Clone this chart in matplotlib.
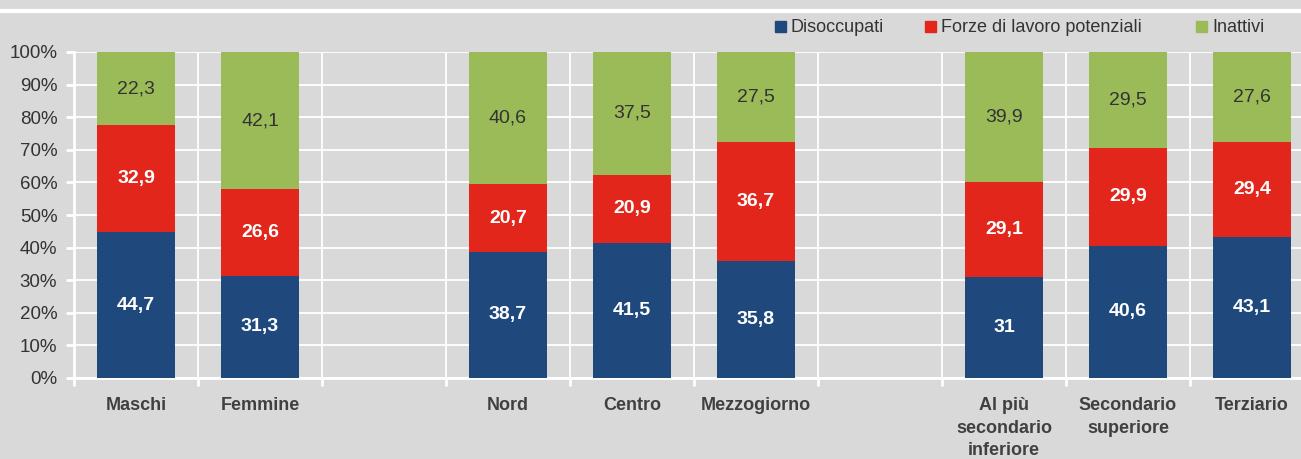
import numpy as np
import matplotlib.pyplot as plt
from matplotlib.patches import Rectangle

categories = ["Maschi", "Femmine", "", "Nord", "Centro", "Mezzogiorno", "",
              "Al più\nsecondario\ninferiore", "Secondario\nsuperiore", "Terziario"]
disoccupati = [44.7, 31.3, 0, 38.7, 41.5, 35.8, 0, 31.0, 40.6, 43.1]
forze_potenziali = [32.9, 26.6, 0, 20.7, 20.9, 36.7, 0, 29.1, 29.9, 29.4]
inattivi = [22.3, 42.1, 0, 40.6, 37.5, 27.5, 0, 39.9, 29.5, 27.6]
series_names = ["Disoccupati", "Forze di lavoro potenziali", "Inattivi"]
colors = ["#1f497d", "#e3261b", "#9bbb59"]

bg = "#d9d9d9"
txt = "#333333"
plt.rcParams["font.family"] = ["Liberation Sans", "DejaVu Sans"]

W, H = 1301, 459
fig = plt.figure(figsize=(W / 100, H / 100), dpi=100, facecolor=bg)
# axes extends past right edge of the figure (cropped like the original)
ax = fig.add_axes([74 / W, 1 - 378 / H, 1240 / W, 326 / H], facecolor=bg)

x = np.arange(len(categories))
width = 0.63
bottom = np.zeros(len(categories))
for vals, col, name in zip([disoccupati, forze_potenziali, inattivi], colors, series_names):
    vals = np.array(vals)
    ax.bar(x, vals, width, bottom=bottom, color=col, zorder=3, label=name)
    for xi, v, b in zip(x, vals, bottom):
        if v == 0:
            continue
        s = (f"{v:.1f}" if v != int(v) else f"{int(v)}").replace(".", ",")
        if col == colors[2]:
            ax.text(xi, b + v / 2, s, ha="center", va="center", fontsize=14,
                    color=txt, zorder=4)
        else:
            ax.text(xi, b + v / 2, s, ha="center", va="center", fontsize=14,
                    color="white", fontweight="bold", zorder=4)
    bottom += vals

ax.set_xlim(-0.5, len(categories) - 0.5)
ax.set_ylim(0, 100)
ax.set_yticks(np.arange(0, 101, 10))
ax.set_yticklabels([f"{v}%" for v in range(0, 101, 10)], fontsize=13.5, color=txt)
ax.set_xticks(np.arange(-0.5, len(categories), 1))
ax.set_xticklabels([])
ax.set_xticks(x, minor=True)
ax.set_xticklabels(categories, minor=True, fontsize=13, fontweight="bold",
                   color="#404040", va="top", linespacing=1.4)
ax.tick_params(axis="x", which="minor", length=0, pad=14)
ax.tick_params(axis="x", which="major", length=6, width=2, color="white")
ax.tick_params(axis="y", length=6, width=2, color="white", pad=6)

ax.grid(True, which="major", color="white", linewidth=1.3, zorder=0)
for sp in ["top", "right"]:
    ax.spines[sp].set_visible(False)
for sp in ["left", "bottom"]:
    ax.spines[sp].set_color("white")
    ax.spines[sp].set_linewidth(2)

# white rule at the top
fig.add_artist(plt.Line2D([0, 1], [1 - 11 / H, 1 - 11 / H], color="white", lw=3,
                          transform=fig.transFigure))

# legend
leg_x = [775, 925, 1196]
for lx, col, name in zip(leg_x, colors, series_names):
    fig.add_artist(Rectangle((lx / W, 1 - 32 / H), 11 / W, 11 / H, color=col,
                             transform=fig.transFigure))
    fig.text((lx + 16) / W, 1 - 27 / H, name, fontsize=13, color=txt, va="center")

fig.savefig("out.png", dpi=100, facecolor=bg)
